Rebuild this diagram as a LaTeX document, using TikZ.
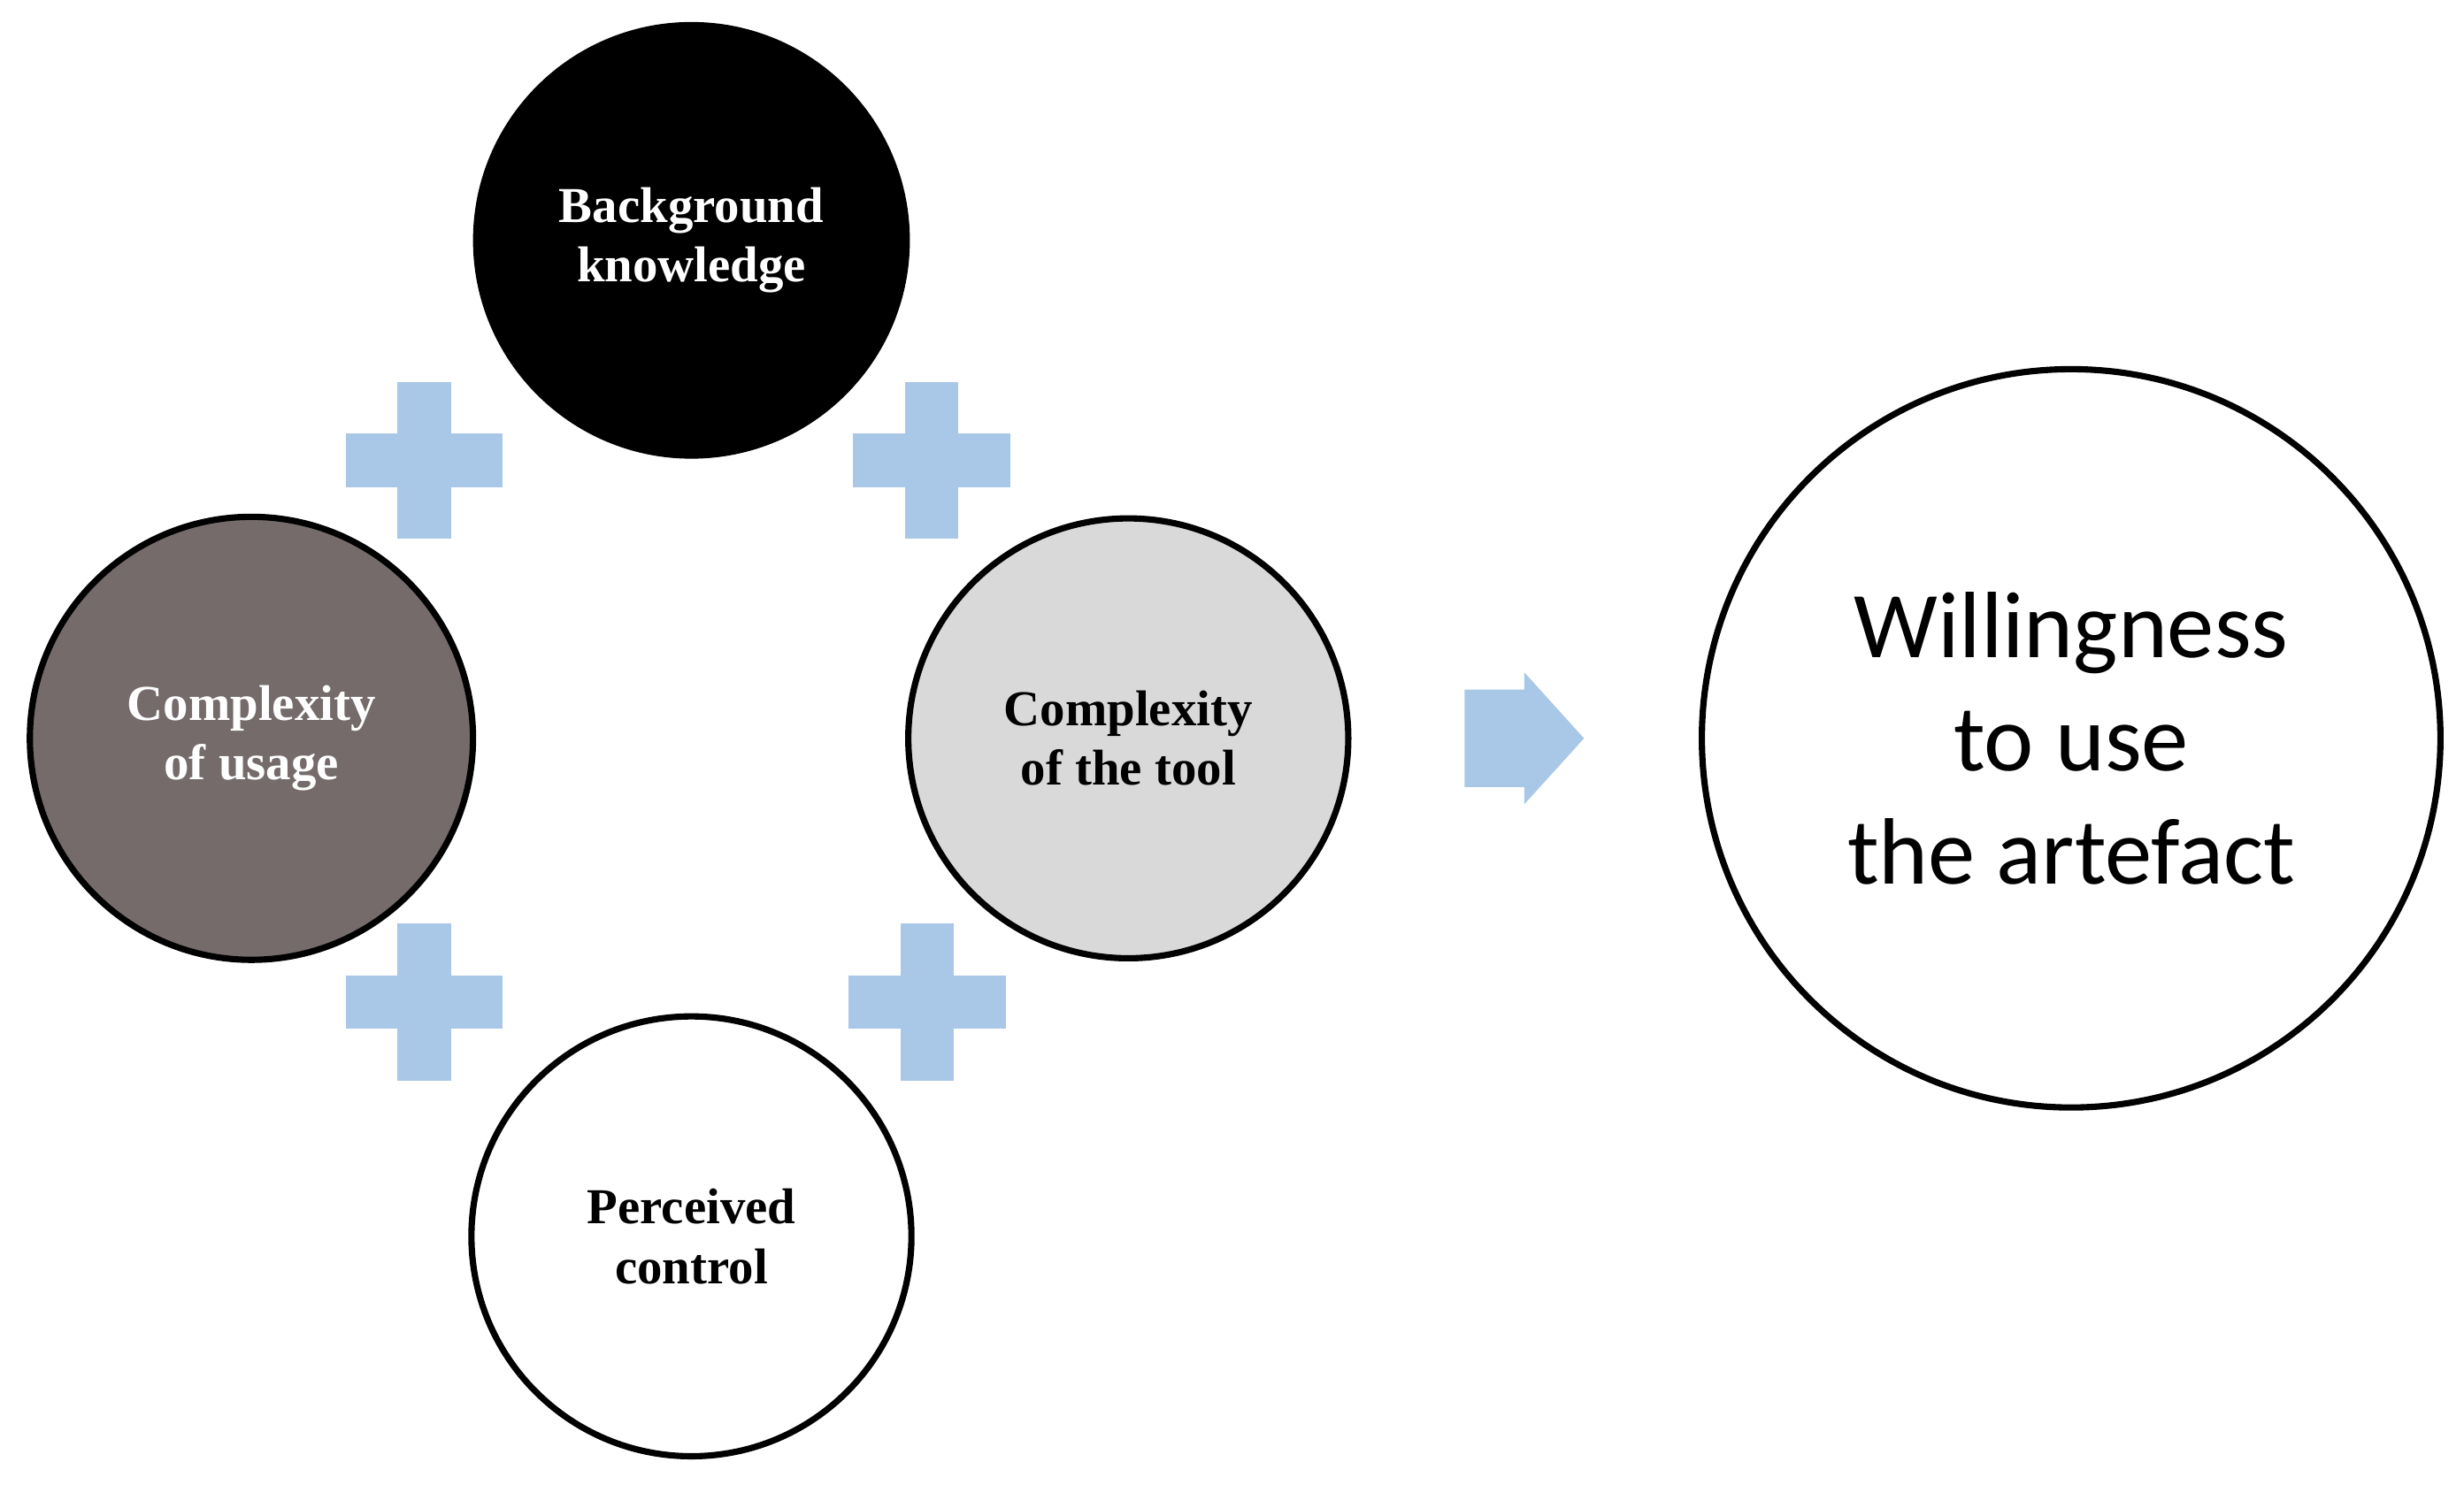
\documentclass[tikz,border=0pt]{standalone}
\usepackage{fontspec}
\setmainfont{Liberation Serif}
\newfontfamily\calib{Carlito}
\begin{document}
\begin{tikzpicture}[x=0.5pt,y=-0.5pt,
  circ/.style={circle,draw=black,line width=2pt,minimum size=#1,inner sep=0pt,align=center,font=\bfseries\fontsize{16}{19}\selectfont},
  plusc/.style={fill=blue!20!cyan!10!white},
]
\definecolor{pl}{HTML}{A9C8E8}
\useasboundingbox (0,0) rectangle (1568,945);
\node[circ=137pt,fill=black,text=white] (bk) at (440,153) {Background\\knowledge};
\node[circ=141pt,fill={rgb,255:red,117;green,107;blue,107},text=white] (cu) at (160,470) {Complexity\\of usage};
\node[circ=140pt,fill={rgb,255:red,217;green,217;blue,217}] (ct) at (718,470) {Complexity\\of the tool};
\node[circ=140pt,fill=white] (pc) at (440,787) {Perceived\\control};
\node[circ=235pt,fill=white,font=\calib\fontsize{30}{36}\selectfont] (wi) at (1318,470) {Willingness\\to use\\the artefact};
\foreach \n/\cx/\cy in {p1/270/293,p2/593/293,p3/270/638,p4/590/638}{
  \fill[pl] (\cx-50,\cy-17) rectangle (\cx+50,\cy+17);
  \fill[pl] (\cx-17,\cy-50) rectangle (\cx+17,\cy+50);
  \coordinate (\n) at (\cx,\cy);
}
\fill[pl] (932,439) -- (970,439) -- (970,428) -- (1008,470) -- (970,512) -- (970,501) -- (932,501) -- cycle;
\end{tikzpicture}
\end{document}
